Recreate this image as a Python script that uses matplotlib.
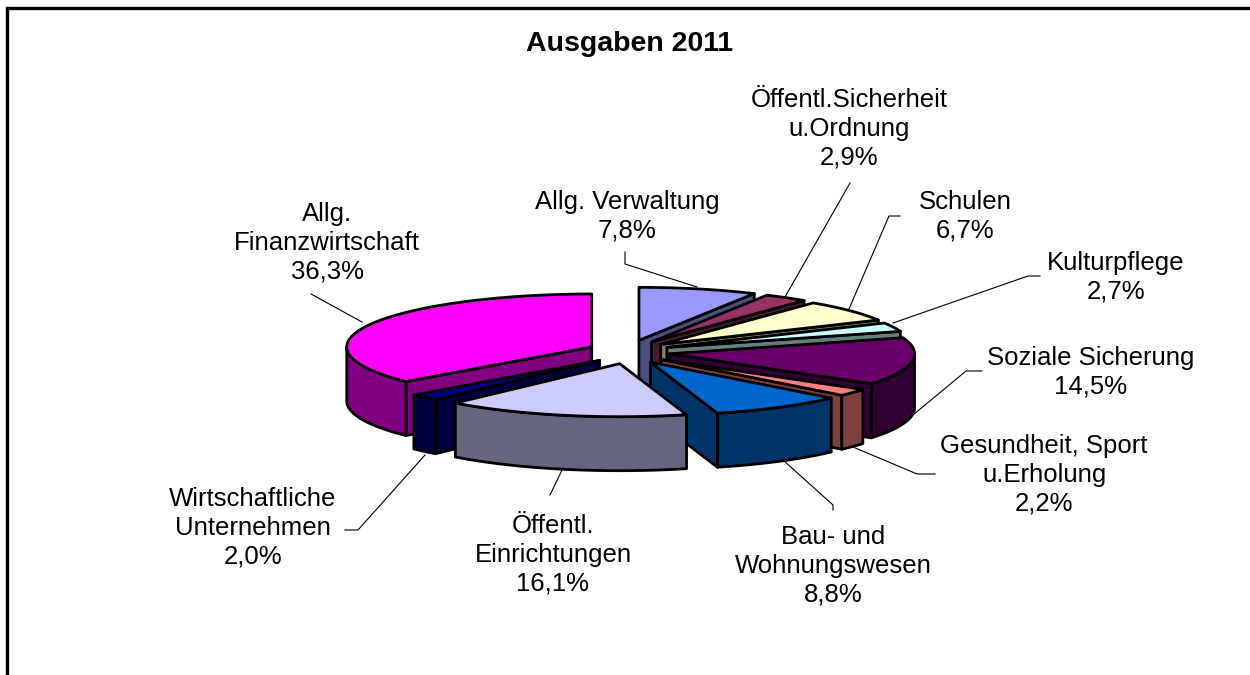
import numpy as np
import matplotlib
matplotlib.use("Agg")
import matplotlib.pyplot as plt
from matplotlib.patches import Polygon

categories = ["Allg. Verwaltung", "Öffentl.Sicherheit\nu.Ordnung", "Schulen", "Kulturpflege",
              "Soziale Sicherung", "Gesundheit, Sport\nu.Erholung", "Bau- und\nWohnungswesen",
              "Öffentl.\nEinrichtungen", "Wirtschaftliche\nUnternehmen", "Allg.\nFinanzwirtschaft"]
values = [7.8, 2.9, 6.7, 2.7, 14.5, 2.2, 8.8, 16.1, 2.0, 36.3]
top_colors = ["#9999FF", "#993366", "#FFFFCC", "#CCFFFF", "#660066", "#FF8080", "#0066CC", "#CCCCFF", "#000080", "#FF00FF"]
side_colors = ["#4D4D80", "#4D1A33", "#808066", "#668080", "#330033", "#804040", "#003366", "#666680", "#000040", "#800080"]
title = "Ausgaben 2011"

label_xy = [(627, 216), (849, 129), (965, 216), (1116, 277), (1091, 372), (1044, 475), (833, 566), (553, 555), (253, 528), (327, 243)]
leaders = [[(625, 252), (625, 264), (697, 287)],
           [(850, 183), (785, 297)],
           [(900, 216), (889, 216), (849, 309)],
           [(1040, 276), (1028, 276), (893, 323)],
           [(982, 371), (966, 371), (913, 415)],
           [(935, 474), (917, 474), (853, 447)],
           [(833, 510), (833, 505), (783, 460)],
           [(550, 495), (563, 468)],
           [(345, 530), (358, 530), (425, 455)],
           [(362, 322), (311, 294)]]

CX, CY, RX, RY, EX, EY, DEPTH = 629, 352, 245, 53, 41, 12, 54
EDGE = dict(edgecolor="black", linewidth=2.0, joinstyle="round")

fig = plt.figure(figsize=(12.5, 6.75), dpi=100)
ax = fig.add_axes([0, 0, 1, 1])
ax.set_xlim(0, 1250)
ax.set_ylim(675, 0)
ax.axis("off")

plt.rcParams["font.family"] = ["Liberation Sans"]

ax.plot([7, 7, 1250], [675, 8, 8], color="black", lw=2.4, solid_joinstyle="miter", clip_on=False)

fr = np.array(values) / sum(values)
ends = np.cumsum(fr) * 2 * np.pi
starts = ends - fr * 2 * np.pi


def pt(a, cx, cy):
    return np.column_stack([cx + RX * np.sin(a), cy - RY * np.cos(a)])


def draw(i):
    a0, a1 = starts[i], ends[i]
    mid = (a0 + a1) / 2
    cx = CX + EX * np.sin(mid)
    cy = CY - EY * np.cos(mid)
    tip = np.array([cx, cy])
    low = np.array([0, DEPTH])
    # cut faces
    for a, vis in ((a1, np.sin(a1) > 0), (a0, np.sin(a0) < 0)):
        if vis:
            p = pt(np.array([a]), cx, cy)[0]
            ax.add_patch(Polygon([tip, p, p + low, tip + low], facecolor=side_colors[i], **EDGE))
    # outer wall: the part of the rim facing the viewer
    lo, hi = max(a0, np.pi / 2), min(a1, 3 * np.pi / 2)
    if hi > lo:
        rim = pt(np.linspace(lo, hi, 60), cx, cy)
        ax.add_patch(Polygon(np.vstack([rim, (rim + low)[::-1]]), facecolor=side_colors[i], **EDGE))
    arc = pt(np.linspace(a0, a1, 100), cx, cy)
    ax.add_patch(Polygon(np.vstack([tip, arc]), facecolor=top_colors[i], **EDGE))


for i in [0, 1, 2, 3, 4, 5, 6, 9, 8, 7]:
    draw(i)

for line in leaders:
    xs, ys = zip(*line)
    ax.plot(xs, ys, color="black", lw=0.8)

for name, v, (x, y) in zip(categories, values, label_xy):
    ax.text(x, y, name + "\n" + f"{v:.1f}".replace(".", ",") + "%", ha="center", va="center",
            fontsize=18.5, family="Liberation Sans", linespacing=1.26, color="black")

ax.text(630, 44, title, ha="center", va="center", fontsize=20.5, fontweight="bold", family="Liberation Sans")

fig.savefig("out.png", dpi=100, facecolor="white")
